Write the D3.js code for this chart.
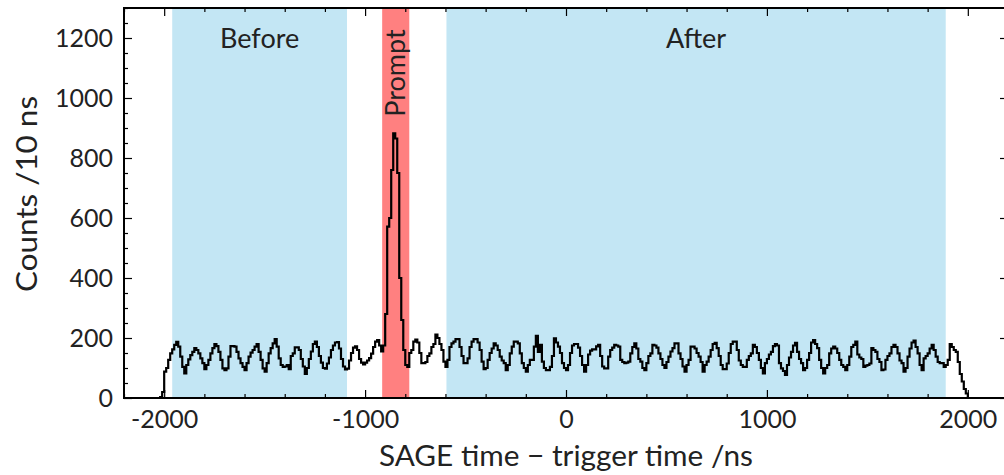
<!DOCTYPE html>
<html>
<head>
<meta charset="utf-8">
<script src="https://cdn.jsdelivr.net/npm/d3@7"></script>
<style>
  html, body { margin: 0; padding: 0; background: #fff; }
  svg { display: block; }
  text { font-family: Lato, "DejaVu Sans", sans-serif; font-weight: 400; fill: #222; }
</style>
</head>
<body>
<svg id="chart" width="1004" height="475"></svg>
<script>
// ---------------- data ----------------
const binStart = -2020;   // ns, left edge of first bin
const binWidth = 10;      // ns
const counts = [
  3, 20, 88, 100, 127, 149, 162, 177, 187, 171,
  138, 104, 82, 110, 129, 143, 154, 166, 160, 149,
  132, 116, 96, 110, 127, 149, 166, 180, 173, 154,
  127, 99, 93, 99, 138, 173, 173, 171, 154, 132,
  116, 104, 93, 116, 138, 151, 160, 171, 180, 154,
  127, 99, 88, 116, 149, 166, 182, 196, 171, 132,
  110, 104, 105, 110, 96, 140, 149, 169, 169, 160,
  130, 105, 80, 100, 130, 155, 180, 188, 170, 140,
  118, 100, 98, 115, 135, 160, 175, 185, 186, 165,
  130, 105, 95, 98, 125, 150, 168, 172, 160, 130,
  118, 112, 118, 125, 133, 148, 170, 188, 193, 175,
  155, 175, 280, 571, 600, 760, 882, 865, 750, 400,
  260, 160, 110, 104, 150, 160, 188, 195, 185, 150,
  116, 116, 120, 140, 149, 170, 180, 211, 200, 180,
  160, 121, 104, 127, 170, 182, 188, 196, 196, 170,
  140, 116, 116, 132, 170, 188, 196, 196, 185, 160,
  121, 96, 100, 127, 150, 165, 182, 175, 160, 138,
  125, 116, 93, 110, 149, 171, 188, 188, 182, 149,
  116, 100, 88, 110, 127, 127, 171, 207, 154, 177,
  121, 100, 93, 93, 104, 140, 199, 185, 171, 150,
  116, 100, 93, 110, 150, 175, 180, 180, 168, 140,
  110, 88, 110, 145, 158, 162, 162, 172, 177, 140,
  105, 99, 99, 138, 160, 168, 177, 175, 171, 127,
  120, 116, 118, 121, 149, 170, 182, 165, 130, 121,
  100, 93, 116, 140, 149, 177, 175, 168, 149, 130,
  110, 100, 120, 138, 155, 166, 182, 182, 149, 130,
  105, 88, 110, 127, 171, 171, 165, 150, 138, 120,
  88, 110, 121, 138, 160, 180, 184, 166, 140, 110,
  96, 96, 115, 150, 180, 188, 188, 160, 125, 110,
  104, 104, 127, 140, 149, 177, 170, 150, 127, 100,
  82, 116, 130, 145, 154, 173, 180, 175, 116, 99,
  90, 77, 110, 135, 154, 175, 184, 154, 130, 116,
  93, 100, 127, 150, 185, 193, 180, 166, 127, 100,
  82, 100, 110, 149, 165, 171, 165, 150, 127, 110,
  104, 93, 110, 138, 170, 177, 188, 145, 135, 130,
  104, 108, 110, 115, 166, 160, 154, 130, 120, 93,
  95, 127, 140, 149, 170, 177, 170, 149, 125, 116,
  88, 100, 138, 165, 185, 191, 170, 149, 110, 93,
  132, 140, 149, 165, 177, 160, 138, 120, 116, 116,
  104, 110, 127, 180, 170, 160, 154, 120, 80, 55,
  30, 15
];

const regionNames = ["Before", "Prompt", "After"];
const regionStart = [-1960, -915, -595];
const regionEnd   = [-1090, -780, 1890];
const regionColors = ["#c3e6f4", "#ff8080", "#c3e6f4"];

const xMajorTicks = [-2000, -1000, 0, 1000, 2000];
const xMajorLabels = ["-2000", "-1000", "0", "1000", "2000"];
const yMajorTicks = [0, 200, 400, 600, 800, 1000, 1200];
const yMajorLabels = ["0", "200", "400", "600", "800", "1000", "1200"];

const xLabel = "SAGE time \u2212 trigger time /ns";
const yLabel = "Counts /10 ns";

// ---------------- layout ----------------
const svg = d3.select("#chart");
const L = 124, R = 1008, T = 8, B = 398;

const x = d3.scaleLinear().domain([-2200, 2200]).range([L, R]);
const y = d3.scaleLinear().domain([0, 1300]).range([B, T]);

// shaded regions
const regions = regionNames.map((n, i) => ({name: n, s: regionStart[i], e: regionEnd[i], c: regionColors[i]}));
svg.append("g").selectAll("rect").data(regions).join("rect")
  .attr("x", d => x(d.s))
  .attr("y", T)
  .attr("width", d => x(d.e) - x(d.s))
  .attr("height", B - T)
  .attr("fill", d => d.c);

// histogram (step)
const pts = [{t: binStart, c: 0}];
counts.forEach((c, i) => pts.push({t: binStart + i * binWidth, c: c}));
pts.push({t: binStart + counts.length * binWidth, c: 0});
const line = d3.line().x(d => x(d.t)).y(d => y(d.c)).curve(d3.curveStepAfter);
svg.append("path").datum(pts)
  .attr("d", line)
  .attr("fill", "none")
  .attr("stroke", "#000")
  .attr("stroke-width", 2.2)
  .attr("stroke-linejoin", "miter");

// region labels
svg.append("text").attr("x", x((regionStart[0] + regionEnd[0]) / 2)).attr("y", y(1168))
  .attr("text-anchor", "middle").attr("font-size", 27).text(regionNames[0]);
svg.append("text").attr("x", x((regionStart[2] + regionEnd[2]) / 2)).attr("y", y(1168))
  .attr("text-anchor", "middle").attr("font-size", 27).text(regionNames[2]);
const px = x((regionStart[1] + regionEnd[1]) / 2) + 9;
const py = 73;
svg.append("text").attr("transform", `translate(${px},${py}) rotate(-90)`)
  .attr("text-anchor", "middle").attr("font-size", 27).text(regionNames[1]);

// axes
const xMinor = d3.range(-2200, 2201, 200).filter(v => !xMajorTicks.includes(v));
const yMinor = d3.range(0, 1301, 50).filter(v => !yMajorTicks.includes(v));

function styleAxis(g) {
  g.select(".domain").remove();
  g.selectAll(".tick line").attr("stroke", "#000").attr("stroke-width", 1.2);
  g.selectAll("text").attr("font-size", 25).attr("fill", "#222")
    .attr("font-family", "Lato, 'DejaVu Sans', sans-serif").attr("font-weight", 400);
}

// bottom
svg.append("g").attr("transform", `translate(0,${B})`)
  .call(d3.axisBottom(x).tickValues(xMajorTicks).tickSize(-8).tickPadding(12)
    .tickFormat((d, i) => xMajorLabels[i]))
  .call(styleAxis);
svg.append("g").attr("transform", `translate(0,${B})`)
  .call(d3.axisBottom(x).tickValues(xMinor).tickSize(-4).tickFormat(""))
  .call(styleAxis);
// top
svg.append("g").attr("transform", `translate(0,${T})`)
  .call(d3.axisTop(x).tickValues(xMajorTicks).tickSize(-8).tickFormat(""))
  .call(styleAxis);
svg.append("g").attr("transform", `translate(0,${T})`)
  .call(d3.axisTop(x).tickValues(xMinor).tickSize(-4).tickFormat(""))
  .call(styleAxis);
// left
svg.append("g").attr("transform", `translate(${L},0)`)
  .call(d3.axisLeft(y).tickValues(yMajorTicks).tickSize(-8).tickPadding(11)
    .tickFormat((d, i) => yMajorLabels[i]))
  .call(styleAxis);
svg.append("g").attr("transform", `translate(${L},0)`)
  .call(d3.axisLeft(y).tickValues(yMinor).tickSize(-4).tickFormat(""))
  .call(styleAxis);
// right
svg.append("g").attr("transform", `translate(${R},0)`)
  .call(d3.axisRight(y).tickValues(yMajorTicks).tickSize(-8).tickFormat(""))
  .call(styleAxis);
svg.append("g").attr("transform", `translate(${R},0)`)
  .call(d3.axisRight(y).tickValues(yMinor).tickSize(-4).tickFormat(""))
  .call(styleAxis);

// frame
svg.append("rect").attr("x", L).attr("y", T).attr("width", R - L).attr("height", B - T)
  .attr("fill", "none").attr("stroke", "#000").attr("stroke-width", 2);

// axis labels
svg.append("text").attr("x", x(0)).attr("y", 466)
  .attr("text-anchor", "middle").attr("font-size", 28)
  .attr("textLength", 374).attr("lengthAdjust", "spacingAndGlyphs")
  .text(xLabel);
svg.append("text").attr("transform", `translate(37,${194}) rotate(-90)`)
  .attr("text-anchor", "middle").attr("font-size", 28)
  .attr("textLength", 196).attr("lengthAdjust", "spacingAndGlyphs")
  .text(yLabel);
</script>
</body>
</html>
